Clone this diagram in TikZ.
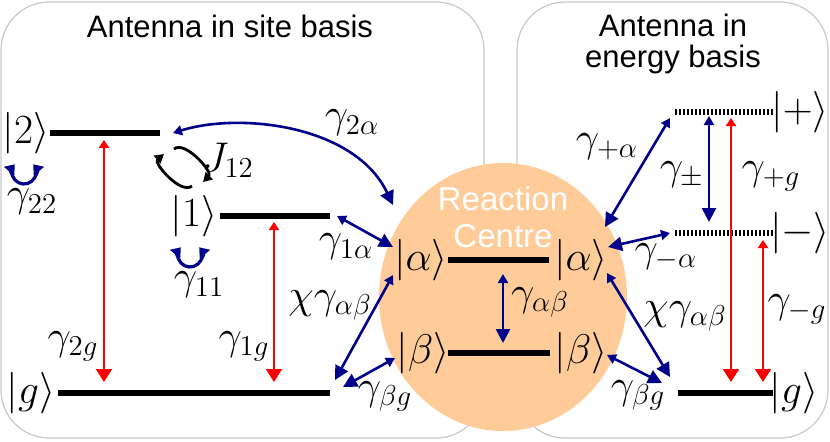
\documentclass[tikz,border=0pt]{standalone}
\usepackage{fontspec}
\newfontfamily\panelfont{Liberation Sans}
\usetikzlibrary{arrows.meta}
\definecolor{centre}{HTML}{FFCC99}
\definecolor{hopping}{HTML}{00008B}
\definecolor{decay}{HTML}{FF0000}
\definecolor{panel}{HTML}{C8C8C8}

\begin{document}
\begin{tikzpicture}[x=0.5pt,y=-0.5pt,
  ket/.style={font=\fontsize{20}{24}\selectfont,inner sep=0pt},
  rate/.style={font=\fontsize{20}{24}\selectfont,inner sep=0pt},
  title/.style={font=\panelfont\fontsize{15.5}{15.5}\selectfont,align=center,inner sep=0pt},
  level/.style={line width=2.8pt},
  dotlevel/.style={line width=2.8pt,dash pattern=on 1pt off 1pt},
  hop/.style={hopping,line width=1.3pt,{Triangle[length=4.5pt,width=5pt]}-{Triangle[length=7pt,width=7pt]}},
  relax/.style={decay,line width=1pt,{Triangle[length=4pt,width=5pt]}-{Triangle[length=6.5pt,width=8pt]}},
  swirl/.style={line width=1.4pt,-{Triangle[length=4.5pt,width=5pt]}},
  loopy/.style={hopping,line width=1.6pt,{Triangle[length=4.5pt,width=6.5pt]}-{Triangle[length=4.5pt,width=6.5pt]}}]
  \useasboundingbox (0,0) rectangle (830,441);

  % Panels
  \draw[panel,line width=0.6pt,rounded corners=24pt] (1,2) rectangle (484,438);
  \draw[panel,line width=0.6pt,rounded corners=24pt] (517,2) rectangle (828,438);
  \node[title,anchor=base] (sitetitle) at (230,37) {Antenna in site basis};
  \node[title] (energytitle) at (673,44) {Antenna in\\energy basis};

  % Reaction centre
  \fill[centre] (503,297) ellipse [x radius=124,y radius=134];
  \node[white,font=\panelfont\fontsize{16.5}{18.5}\selectfont,align=center,inner sep=0pt] (rctext) at (503,217) {Reaction\\Centre};

  % Site basis levels
  \draw[level] (50,133) -- (160,133);
  \draw[level] (220,216) -- (330,216);
  \draw[level] (58,393) -- (330,393);
  \node[ket] (k2) at (26,133) {$|2\rangle$};
  \node[ket] (k1) at (194,216) {$|1\rangle$};
  \node[ket] (kg) at (31,393) {$|g\rangle$};

  % Reaction centre levels
  \draw[level] (448,260) -- (549,260);
  \draw[level] (448,353) -- (550,353);
  \node[ket] (kal) at (421,260) {$|\alpha\rangle$};
  \node[ket] (kar) at (581,260) {$|\alpha\rangle$};
  \node[ket] (kbl) at (423,353) {$|\beta\rangle$};
  \node[ket] (kbr) at (581,353) {$|\beta\rangle$};

  % Energy basis levels
  \draw[dotlevel] (675,112) -- (773,112);
  \draw[dotlevel] (675,233) -- (773,233);
  \draw[level] (678,393) -- (773,393);
  \node[ket] (kp) at (800,112) {$|+\rangle$};
  \node[ket] (km) at (800,233) {$|-\rangle$};
  \node[ket] (kgr) at (794,393) {$|g\rangle$};

  % Decay to ground
  \coordinate (d2t) at (104,140); \coordinate (d2b) at (104,382);
  \coordinate (d1t) at (274,222); \coordinate (d1b) at (274,382);
  \coordinate (dpt) at (731,118); \coordinate (dpb) at (731,382);
  \coordinate (dmt) at (763,240); \coordinate (dmb) at (763,382);
  \draw[relax] (d2t) -- (d2b);
  \draw[relax] (d1t) -- (d1b);
  \draw[relax] (dpt) -- (dpb);
  \draw[relax] (dmt) -- (dmb);
  \node[rate] (r2g) at (73,346) {$\gamma_{2g}$};
  \node[rate] (r1g) at (244,346) {$\gamma_{1g}$};
  \node[rate] (rpg) at (771,176) {$\gamma_{+g}$};
  \node[rate] (rmg) at (797,309) {$\gamma_{-g}$};

  % Transfer to the reaction centre (site basis)
  \coordinate (h2s) at (173,133); \coordinate (h2e) at (393,205);
  \coordinate (h1s) at (337,216); \coordinate (h1e) at (393,247);
  \coordinate (xls) at (393,275); \coordinate (xle) at (335,380);
  \coordinate (bls) at (395,358); \coordinate (ble) at (343,387);
  \draw[hop] (h2s) .. controls (240,112) and (355,125) .. (h2e);
  \draw[hop] (h1s) -- (h1e);
  \draw[hop] (xls) -- (xle);
  \draw[hop] (bls) -- (ble);
  \node[rate] (r2a) at (352,123) {$\gamma_{2\alpha}$};
  \node[rate] (r1a) at (346,247) {$\gamma_{1\alpha}$};
  \node[rate] (rxl) at (330,305) {$\chi\gamma_{\alpha\beta}$};
  \node[rate] (rbl) at (385,396) {$\gamma_{\beta g}$};

  % Inside the reaction centre
  \coordinate (abs) at (503,274); \coordinate (abe) at (503,343);
  \draw[hop] (abs) -- (abe);
  \node[rate] (rab) at (540,302) {$\gamma_{\alpha\beta}$};

  % Transfer to the reaction centre (energy basis)
  \coordinate (hps) at (670,118); \coordinate (hpe) at (605,227);
  \coordinate (hms) at (670,233); \coordinate (hme) at (608,247);
  \coordinate (hpms) at (709,116); \coordinate (hpme) at (709,222);
  \coordinate (xrs) at (607,273); \coordinate (xre) at (670,377);
  \coordinate (brs) at (607,355); \coordinate (bre) at (662,383);
  \draw[hop] (hps) -- (hpe);
  \draw[hop] (hms) -- (hme);
  \draw[hop] (hpms) -- (hpme);
  \draw[hop] (xrs) -- (xre);
  \draw[hop] (brs) -- (bre);
  \node[rate] (rpa) at (607,147) {$\gamma_{+\alpha}$};
  \node[rate] (rma) at (666,257) {$\gamma_{-\alpha}$};
  \node[rate] (rpm) at (682,175) {$\gamma_{\pm}$};
  \node[rate] (rxr) at (685,316) {$\chi\gamma_{\alpha\beta}$};
  \node[rate] (rbr) at (638,395) {$\gamma_{\beta g}$};

  % Dephasing loops
  \coordinate (c22) at (24,172);
  \coordinate (c11) at (190,255);
  \draw[loopy] (c22) ++(-40:12) arc[start angle=-40,end angle=220,radius=12];
  \draw[loopy] (c11) ++(-40:12) arc[start angle=-40,end angle=220,radius=12];
  \node[rate] (r22) at (32,202) {$\gamma_{22}$};
  \node[rate] (r11) at (199,285) {$\gamma_{11}$};

  % Coupling
  \coordinate (ja) at (192,186); \coordinate (jb) at (164,154);
  \coordinate (jc) at (174,149); \coordinate (jd) at (203,182);
  \draw[swirl] (ja) .. controls (181,195) and (153,163) .. (jb);
  \draw[swirl] (jc) .. controls (185,140) and (213,172) .. (jd);
  \node[rate] (j12) at (228,160) {$J_{12}$};
\end{tikzpicture}
\end{document}
